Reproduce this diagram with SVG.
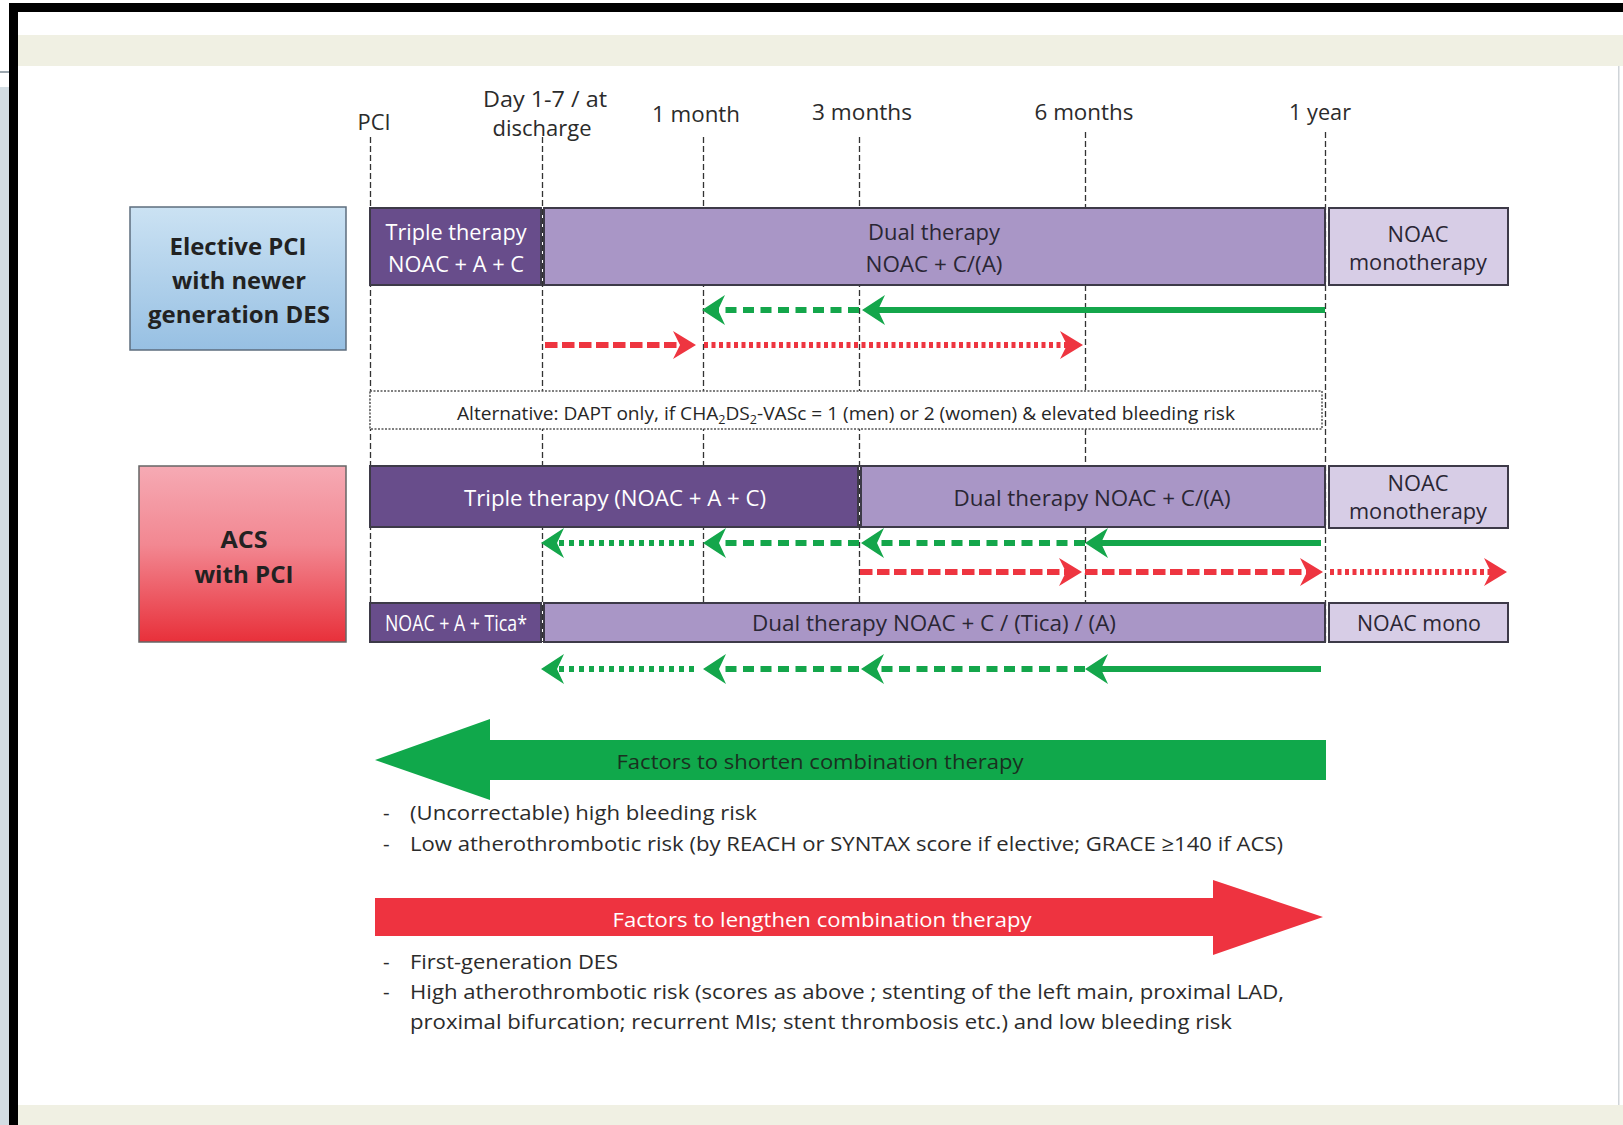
<svg xmlns="http://www.w3.org/2000/svg" width="1623" height="1125" viewBox="0 0 1623 1125">
<style>
text{font-family:"Open Sans","Noto Sans","DejaVu Sans",sans-serif}
.lbl{font-size:21px;fill:#2b2b2b;text-anchor:middle}
.bx{font-size:24px;font-weight:700;fill:#222;text-anchor:middle}
.wt{font-size:21px;fill:#fff;text-anchor:middle}
.dk{font-size:21px;fill:#2a2634;text-anchor:middle}
.li{font-size:20.5px;fill:#2b2b2b}
.guide{stroke:#333;stroke-width:1.3;stroke-dasharray:6 3;fill:none}
.bar{stroke:#3d3a48;stroke-width:2}
.triple{fill:#684d8b}
.dual{fill:#a996c6}
.mono{fill:#d7cde6}
.g{stroke:#14a64b;stroke-width:6;fill:none}
.r{stroke:#ee3540;stroke-width:6;fill:none}
.gd{stroke-dasharray:11 6.5}
.gdot{stroke-dasharray:5 5}
.rd{stroke-dasharray:12.5 4.5}
.rdot{stroke-dasharray:4 3.5}
</style>
<defs>
<linearGradient id="blueG" x1="0" y1="0" x2="0" y2="1"><stop offset="0" stop-color="#cbe2f3"/><stop offset="1" stop-color="#97c0e3"/></linearGradient>
<linearGradient id="redG" x1="0" y1="0" x2="0" y2="1"><stop offset="0" stop-color="#f6aab4"/><stop offset="0.45" stop-color="#f28791"/><stop offset="1" stop-color="#e8303a"/></linearGradient>
<marker id="ga" markerUnits="userSpaceOnUse" markerWidth="26" markerHeight="32" refX="7" refY="15" orient="auto" overflow="visible"><path d="M0,0 L23,15 L0,30 L7,15 Z" fill="#14a64b"/></marker>
<marker id="ra" markerUnits="userSpaceOnUse" markerWidth="26" markerHeight="30" refX="7" refY="14" orient="auto" overflow="visible"><path d="M0,0 L23,14 L0,28 L7,14 Z" fill="#ee3540"/></marker>
</defs>

<g id="frame">
<rect x="0" y="0" width="1623" height="1125" fill="#fff"/>
<rect x="0" y="87" width="9" height="1038" fill="#d3dde3"/>
<rect x="0" y="71" width="15" height="2" fill="#9aa5ad"/>
<rect x="18" y="35" width="1605" height="31" fill="#f0f0e3"/>
<rect x="18" y="1105" width="1605" height="20" fill="#f0f0e3"/>
<rect x="1618" y="66" width="1.5" height="1039" fill="#cfd4d8"/>
<rect x="9" y="3" width="1614" height="9" fill="#000"/>
<rect x="9" y="3" width="9" height="1122" fill="#000"/>
</g>

<g id="timeline-labels">
<text class="lbl" x="374" y="130" textLength="33" lengthAdjust="spacingAndGlyphs">PCI</text>
<text class="lbl" x="545" y="107" textLength="124" lengthAdjust="spacingAndGlyphs">Day 1-7  / at</text>
<text class="lbl" x="542" y="136" textLength="99" lengthAdjust="spacingAndGlyphs">discharge</text>
<text class="lbl" x="696" y="122" textLength="88" lengthAdjust="spacingAndGlyphs">1 month</text>
<text class="lbl" x="862" y="120" textLength="100" lengthAdjust="spacingAndGlyphs">3 months</text>
<text class="lbl" x="1084" y="120" textLength="99" lengthAdjust="spacingAndGlyphs">6 months</text>
<text class="lbl" x="1320" y="120" textLength="62" lengthAdjust="spacingAndGlyphs">1 year</text>
</g>

<g id="connectors">
<line class="guide" x1="370.5" y1="137" x2="370.5" y2="642"/>
<line class="guide" x1="542.5" y1="137" x2="542.5" y2="642"/>
<line class="guide" x1="703.5" y1="137" x2="703.5" y2="642"/>
<line class="guide" x1="859.5" y1="137" x2="859.5" y2="642"/>
<line class="guide" x1="1085.5" y1="132" x2="1085.5" y2="642"/>
<line class="guide" x1="1325.5" y1="132" x2="1325.5" y2="642"/>
</g>

<g id="alternative">
<rect x="370" y="391" width="952" height="38" fill="#fff" stroke="#555" stroke-width="1.5" stroke-dasharray="2 1.5"/>
<text x="457" y="420" font-size="19" fill="#262626" textLength="778" lengthAdjust="spacingAndGlyphs">Alternative: DAPT only, if CHA<tspan font-size="12.5" dy="4">2</tspan><tspan dy="-4">DS</tspan><tspan font-size="12.5" dy="4">2</tspan><tspan dy="-4">-VASc = 1 (men) or 2 (women) &amp; elevated bleeding risk</tspan></text>
</g>

<g id="elective">
<rect x="130" y="207" width="216" height="143" fill="url(#blueG)" stroke="#5d6d7e" stroke-width="1.5"/>
<text class="bx" x="238" y="255" textLength="137" lengthAdjust="spacingAndGlyphs">Elective PCI</text>
<text class="bx" x="239" y="289" textLength="134" lengthAdjust="spacingAndGlyphs">with newer</text>
<text class="bx" x="239" y="323" textLength="182" lengthAdjust="spacingAndGlyphs">generation DES</text>
</g>

<g id="el-triple">
<rect class="bar triple" x="370" y="208" width="171" height="77"/>
<text class="wt" x="456" y="240" textLength="141" lengthAdjust="spacingAndGlyphs">Triple therapy</text>
<text class="wt" x="456" y="272" textLength="136" lengthAdjust="spacingAndGlyphs">NOAC + A + C</text>
</g>
<g id="el-dual">
<rect class="bar dual" x="544" y="208" width="781" height="77"/>
<text class="dk" x="934" y="240" textLength="132" lengthAdjust="spacingAndGlyphs">Dual therapy</text>
<text class="dk" x="934" y="272" textLength="137" lengthAdjust="spacingAndGlyphs">NOAC + C/(A)</text>
</g>
<g id="el-mono">
<rect class="bar mono" x="1329" y="208" width="179" height="77"/>
<text class="dk" x="1418" y="242" textLength="61" lengthAdjust="spacingAndGlyphs">NOAC</text>
<text class="dk" x="1418" y="270" textLength="138" lengthAdjust="spacingAndGlyphs">monotherapy</text>
</g>

<g id="acs">
<rect x="139" y="466" width="207" height="176" fill="url(#redG)" stroke="#666" stroke-width="1.5"/>
<text class="bx" x="244" y="548" textLength="47" lengthAdjust="spacingAndGlyphs">ACS</text>
<text class="bx" x="244" y="583" textLength="99" lengthAdjust="spacingAndGlyphs">with PCI</text>
</g>

<g id="acs-triple">
<rect class="bar triple" x="370" y="466" width="488" height="61"/>
<text class="wt" x="615" y="506" textLength="302" lengthAdjust="spacingAndGlyphs">Triple therapy (NOAC + A + C)</text>
</g>
<g id="acs-dual">
<rect class="bar dual" x="861" y="466" width="464" height="61"/>
<text class="dk" x="1092" y="506" textLength="277" lengthAdjust="spacingAndGlyphs">Dual therapy NOAC + C/(A)</text>
</g>
<g id="acs-mono">
<rect class="bar mono" x="1329" y="466" width="179" height="62"/>
<text class="dk" x="1418" y="491" textLength="61" lengthAdjust="spacingAndGlyphs">NOAC</text>
<text class="dk" x="1418" y="519" textLength="138" lengthAdjust="spacingAndGlyphs">monotherapy</text>
</g>

<g id="acs2-triple">
<rect class="bar triple" x="370" y="603" width="171" height="39"/>
<text class="wt" x="456" y="631" font-size="19" textLength="142" lengthAdjust="spacingAndGlyphs">NOAC + A + Tica*</text>
</g>
<g id="acs2-dual">
<rect class="bar dual" x="544" y="603" width="781" height="39"/>
<text class="dk" x="934" y="631" textLength="364" lengthAdjust="spacingAndGlyphs">Dual therapy NOAC + C / (Tica) / (A)</text>
</g>
<g id="acs2-mono">
<rect class="bar mono" x="1329" y="603" width="179" height="39"/>
<text class="dk" x="1419" y="631" textLength="124" lengthAdjust="spacingAndGlyphs">NOAC mono</text>
</g>

<g id="timing-arrows">
<line class="g" x1="1325" y1="310" x2="878" y2="310" marker-end="url(#ga)"/>
<line class="g gd" x1="859" y1="310" x2="718" y2="310" marker-end="url(#ga)"/>
<line class="r rd" x1="545" y1="345" x2="680" y2="345" marker-end="url(#ra)"/>
<line class="r rdot" x1="704" y1="345" x2="1067" y2="345" marker-end="url(#ra)"/>

<line class="g" x1="1321" y1="543" x2="1101" y2="543" marker-end="url(#ga)"/>
<line class="g gd" x1="1085" y1="543" x2="877" y2="543" marker-end="url(#ga)"/>
<line class="g gd" x1="859" y1="543" x2="719" y2="543" marker-end="url(#ga)"/>
<line class="g gdot" x1="694" y1="543" x2="557" y2="543" marker-end="url(#ga)"/>

<line class="r rd" x1="860" y1="572" x2="1066" y2="572" marker-end="url(#ra)"/>
<line class="r rd" x1="1085" y1="572" x2="1307" y2="572" marker-end="url(#ra)"/>
<line class="r rdot" x1="1330" y1="572" x2="1491" y2="572" marker-end="url(#ra)"/>

<line class="g" x1="1321" y1="669" x2="1101" y2="669" marker-end="url(#ga)"/>
<line class="g gd" x1="1085" y1="669" x2="877" y2="669" marker-end="url(#ga)"/>
<line class="g gd" x1="859" y1="669" x2="719" y2="669" marker-end="url(#ga)"/>
<line class="g gdot" x1="694" y1="669" x2="557" y2="669" marker-end="url(#ga)"/>
</g>

<g id="shorten">
<polygon points="375,760 490,719 490,740 1326,740 1326,780 490,780 490,800" fill="#10a84b"/>
<text x="820" y="769" font-size="20" fill="#1a3020" text-anchor="middle" textLength="407" lengthAdjust="spacingAndGlyphs">Factors to shorten combination therapy</text>
<text class="li" x="383" y="820">-</text>
<text class="li" x="410" y="820" textLength="347" lengthAdjust="spacingAndGlyphs">(Uncorrectable) high bleeding risk</text>
<text class="li" x="383" y="851">-</text>
<text class="li" x="410" y="851" textLength="873" lengthAdjust="spacingAndGlyphs">Low atherothrombotic risk (by REACH or SYNTAX score if elective; GRACE ≥140 if ACS)</text>
</g>

<g id="lengthen">
<polygon points="375,898 1213,898 1213,880 1323,917 1213,955 1213,936 375,936" fill="#ee3340"/>
<text x="822" y="927" font-size="20" fill="#fff" text-anchor="middle" textLength="419" lengthAdjust="spacingAndGlyphs">Factors to lengthen combination therapy</text>
<text class="li" x="383" y="969">-</text>
<text class="li" x="410" y="969" textLength="208" lengthAdjust="spacingAndGlyphs">First-generation DES</text>
<text class="li" x="383" y="999">-</text>
<text class="li" x="410" y="999" textLength="874" lengthAdjust="spacingAndGlyphs">High atherothrombotic risk (scores as above ; stenting of the left main, proximal LAD,</text>
<text class="li" x="410" y="1029" textLength="822" lengthAdjust="spacingAndGlyphs">proximal bifurcation; recurrent MIs; stent thrombosis etc.) and low bleeding risk</text>
</g>
</svg>
